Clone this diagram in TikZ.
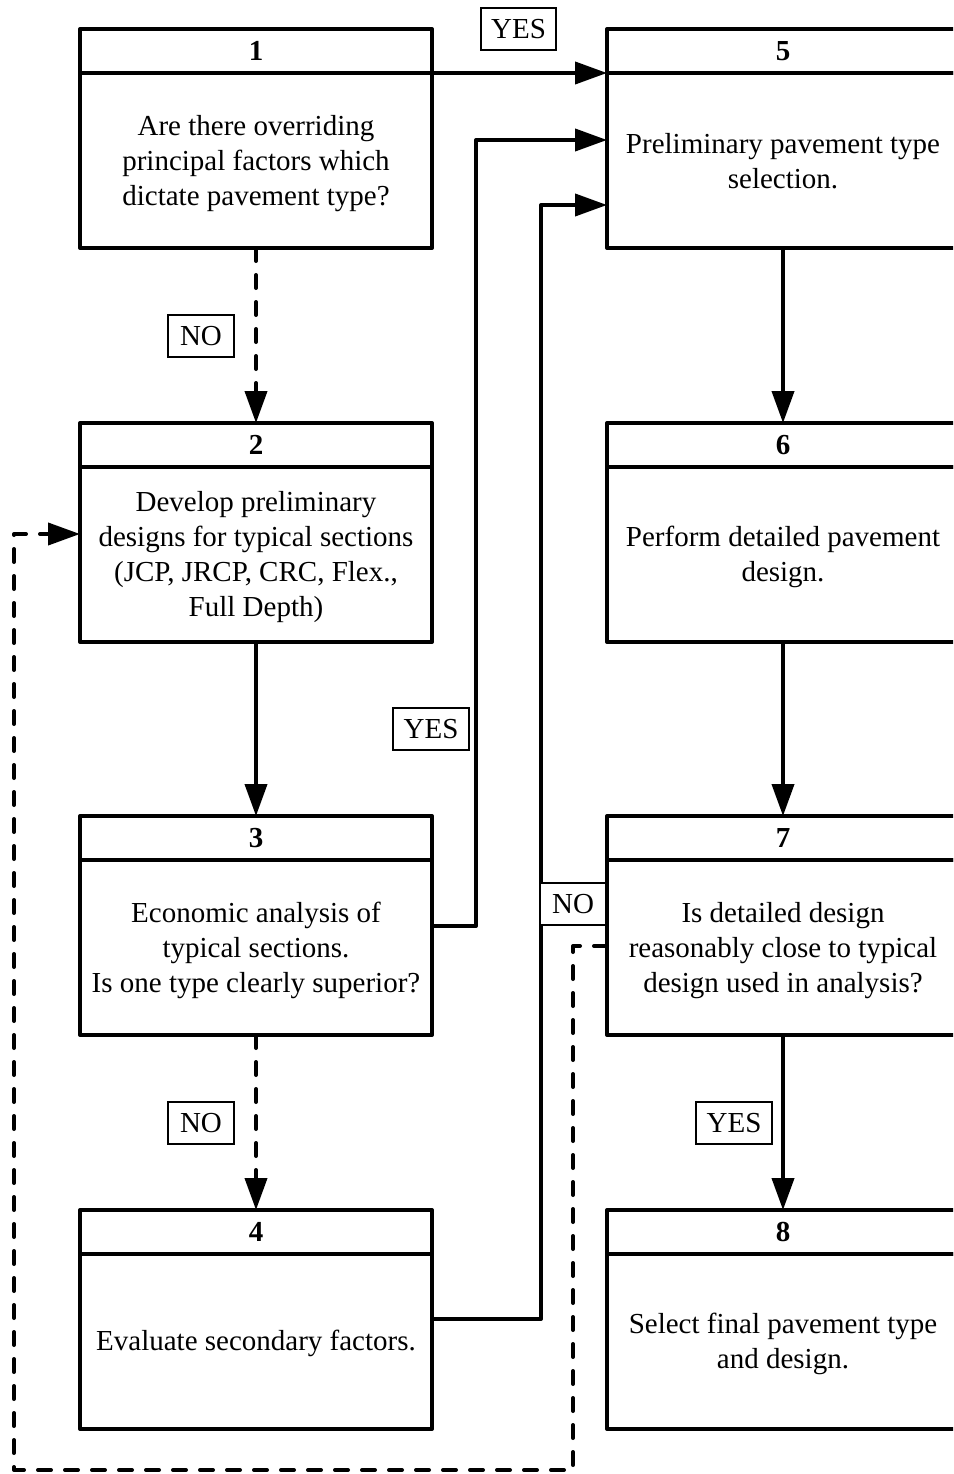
\documentclass[tikz,border=0pt]{standalone}
\usepackage{fontspec}
\setmainfont{Liberation Serif}
\usetikzlibrary{arrows.meta,positioning}
\tikzset{
  hdr/.style={draw, line width=4pt, line join=round, minimum width=352pt, minimum height=44pt, inner sep=0pt, outer sep=0pt, font=\fontsize{29}{35}\selectfont\bfseries},
  body/.style={draw, line width=4pt, line join=round, minimum width=352pt, minimum height=175pt, inner sep=0pt, outer sep=0pt},
  txt/.style={inner sep=0pt, align=center, font=\fontsize{29}{35}\selectfont},
  lbl/.style={draw, line width=1.3pt, fill=white, minimum height=42pt, inner sep=0pt, font=\fontsize{29}{35}\selectfont},
  conn/.style={line width=4pt, line join=round, -{Triangle[length=32pt,width=22pt]}},
  dconn/.style={conn, dash pattern=on 13pt off 14pt, line cap=round},
}
\begin{document}
\begin{tikzpicture}[x=1pt,y=-1pt]
\useasboundingbox (0,0) rectangle (953,1474);
\clip (0,0) rectangle (953,1474);
% left column
\node[hdr] (h1) at (256,51) {1};
\node[body, below=0pt of h1] (b1) {};
\node[txt] (t1) at ([yshift=-3pt]b1.center) {Are there overriding\\principal factors which\\dictate pavement type?};
\node[hdr] (h2) at (256,445) {2};
\node[body, below=0pt of h2] (b2) {};
\node[txt] (t2) at ([yshift=-3pt]b2.center) {Develop preliminary\\designs for typical sections\\(JCP, JRCP, CRC, Flex.,\\Full Depth)};
\node[hdr] (h3) at (256,838) {3};
\node[body, below=0pt of h3] (b3) {};
\node[txt] (t3) at ([yshift=-3pt]b3.center) {Economic analysis of\\typical sections.\\Is one type clearly superior?};
\node[hdr] (h4) at (256,1232) {4};
\node[body, below=0pt of h4] (b4) {};
\node[txt] (t4) at ([yshift=-2pt]b4.center) {Evaluate secondary factors.};
% right column
\node[hdr] (h5) at (783,51) {5};
\node[body, below=0pt of h5] (b5) {};
\node[txt] (t5) at ([yshift=-1pt]b5.center) {Preliminary pavement type\\selection.};
\node[hdr] (h6) at (783,445) {6};
\node[body, below=0pt of h6] (b6) {};
\node[txt] (t6) at ([yshift=-2pt]b6.center) {Perform detailed pavement\\design.};
\node[hdr] (h7) at (783,838) {7};
\node[body, below=0pt of h7] (b7) {};
\node[txt] (t7) at ([yshift=-3pt]b7.center) {Is detailed design\\reasonably close to typical\\design used in analysis?};
\node[hdr] (h8) at (783,1232) {8};
\node[body, below=0pt of h8] (b8) {};
\node[txt] (t8) at ([yshift=-2pt]b8.center) {Select final pavement type\\and design.};
% connectors
\draw[conn] (b1.north east) -- (b5.north west);
\draw[dconn] (b1.south) -- (h2.north);
\draw[conn] (b2.south) -- (h3.north);
\draw[dconn] (b3.south) -- (h4.north);
\draw[conn] (b5.south) -- (h6.north);
\draw[conn] (b6.south) -- (h7.north);
\draw[conn] (b7.south) -- (h8.north);
\draw[conn] (b3.east |- 0,926) -- (476,926) -- (476,140) -- (b5.west |- 0,140);
\draw[conn] (b4.east |- 0,1319) -- (541,1319) -- (541,205) -- (b5.west |- 0,205);
\draw[dconn] (b7.west |- 0,946) -- (573,946) -- (573,1470) -- (14,1470) -- (14,534) -- (b2.west |- 0,534);
% labels
\node[lbl, minimum width=75pt] (y1) at (518.5,29) {YES};
\node[lbl, minimum width=66pt] (n1) at (201,336) {NO};
\node[lbl, minimum width=76pt] (y2) at (431,729) {YES};
\node[lbl, minimum width=66pt] (n2) at (201,1123) {NO};
\node[lbl, minimum width=66pt] (n3) at (573,904) {NO};
\node[lbl, minimum width=76pt] (y3) at (734,1123) {YES};
\end{tikzpicture}
\end{document}
